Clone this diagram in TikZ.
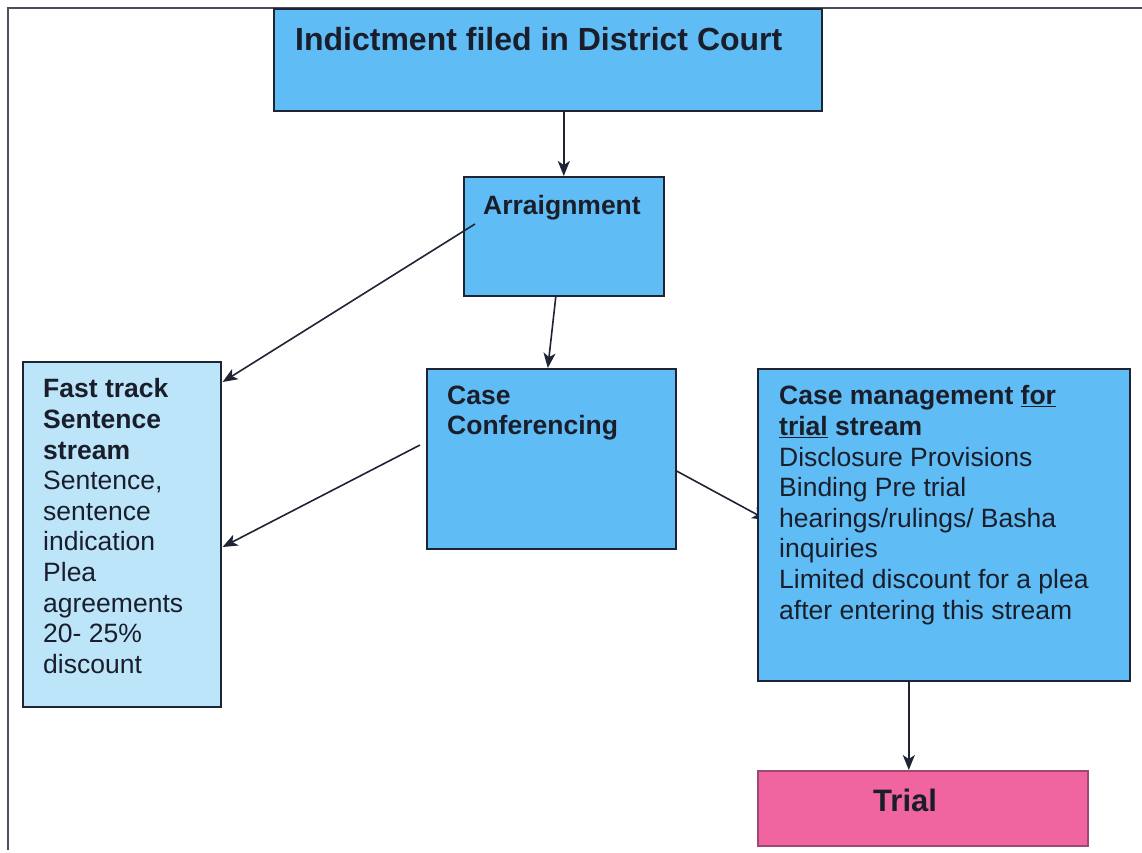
\documentclass[tikz,border=0pt]{standalone}
\usepackage{fontspec}
\setmainfont{Liberation Sans}
\usetikzlibrary{arrows.meta,backgrounds}
\definecolor{boxblue}{RGB}{96,188,244}
\definecolor{paleblue}{RGB}{188,229,250}
\definecolor{trialpink}{RGB}{240,100,160}
\definecolor{inkline}{RGB}{30,36,52}
\definecolor{inktext}{RGB}{26,30,42}
\tikzset{
  stepbox/.style={draw=inkline, line width=1.6pt, fill=boxblue, anchor=north west, inner sep=0pt},
  boxtext/.style={text=inktext, inner sep=0pt, align=left, font=\fontsize{26.5pt}{30.6pt}\selectfont},
  conn/.style={draw=inkline, line width=1.6pt, -{Stealth[length=15pt,width=12pt,inset=4pt]}},
}
\begin{document}
\begin{tikzpicture}[x=1pt,y=-1pt]
\useasboundingbox (0,0) rectangle (1142,852);
% Cadre
\draw[inkline!80, line width=1.2pt] (8,850) -- (8,8) -- (1142,8);
% Boites
\node[stepbox, minimum width=548pt, minimum height=102pt] (indict) at (273,8) {};
\node[stepbox, minimum width=200pt, minimum height=119pt] (arr) at (463,176) {};
\node[stepbox, fill=paleblue, minimum width=198pt, minimum height=345pt] (fast) at (22,361) {};
\node[stepbox, minimum width=249pt, minimum height=180pt] (conf) at (426,368) {};
\node[stepbox, minimum width=372pt, minimum height=312pt] (mgmt) at (757,368) {};
\node[stepbox, draw=trialpink!60!inkline, fill=trialpink, minimum width=330pt, minimum height=75pt] (trial) at (757,770) {};
% Textes
\node[boxtext, anchor=base west, font=\fontsize{32pt}{36pt}\selectfont\bfseries] (indictT) at (295,50.5) {Indictment filed in District Court};
\node[boxtext, anchor=base west, font=\fontsize{26.5pt}{30.6pt}\selectfont\bfseries] (arrT) at (483,214.5) {Arraignment};
\node[boxtext, anchor=north west] (fastT) at (43,378.5) {\textbf{Fast track}\\\textbf{Sentence}\\\textbf{stream}\\Sentence,\\sentence\\indication\\Plea\\agreements\\20- 25\%\\discount};
\node[boxtext, anchor=north west, font=\fontsize{26.5pt}{30.6pt}\selectfont\bfseries] (confT) at (447,385.5) {Case\\Conferencing};
\node[boxtext, anchor=north west] (mgmtT) at (779,385.5) {\textbf{Case management \underline{for}}\\\textbf{\underline{trial} stream}\\Disclosure Provisions\\Binding Pre trial\\hearings/rulings/ Basha\\inquiries\\Limited discount for a plea\\after entering this stream};
\node[boxtext, anchor=base west, font=\fontsize{31pt}{35pt}\selectfont\bfseries] (trialT) at (873,811) {Trial};
% Fleches
\draw[conn] (indict.south -| arr.north) -- (arr.north);
\draw[conn] ([shift={(12,48)}]arr.north west) -- ([shift={(1,21)}]fast.north east);
\draw[conn] ([xshift=-8]arr.south) -- ([xshift=-3.5]conf.north);
\draw[conn] ([shift={(-6,77)}]conf.north west) -- ([shift={(1,186)}]fast.north east);
\begin{pgfonlayer}{background}
\draw[conn] ([shift={(0,103)}]conf.north east) -- ([shift={(10,152)}]mgmt.north west);
\end{pgfonlayer}
\draw[conn] ([xshift=-35]mgmt.south) -- ([xshift=-35]mgmt.south |- trial.north);
\end{tikzpicture}
\end{document}
